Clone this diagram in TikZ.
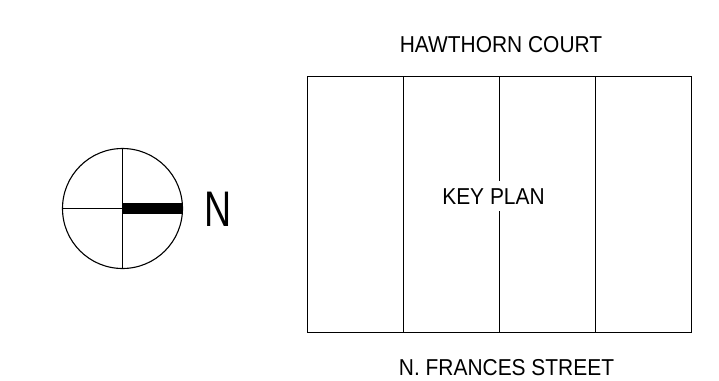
\documentclass[tikz,border=0pt]{standalone}
\usepackage{fontspec}
\setmainfont{Liberation Sans}
\newcommand{\squeezed}[2]{\scalebox{#1}[1]{#2}}
\begin{document}
\begin{tikzpicture}[x=1pt,y=-1pt,
  ln/.style={draw=black,line width=1.1pt},
  lbl/.style={inner sep=0pt,font=\fontsize{23}{26}\selectfont}]
\useasboundingbox (0,0) rectangle (719,380);
\fill[white] (0,0) rectangle (719,380);
\draw[ln] (122.5,208.5) circle (60);
\draw[ln] (122.5,148.5) -- (122.5,268.5);
\draw[ln] (62.5,208.5) -- (122.5,208.5);
\draw[black,line width=11pt] (122.5,208.5) -- (182.5,208.5);
\node[inner sep=0pt,font=\fontsize{50}{54}\selectfont] at (218,209) {\squeezed{0.75}{N}};
\draw[ln] (307.5,76.5) rectangle (691.5,332.5);
\draw[ln] (403.5,76.5) -- (403.5,332.5);
\draw[ln] (499.5,76.5) -- (499.5,181);
\draw[ln] (499.5,211) -- (499.5,332.5);
\node[lbl] at (501,44.5) {\squeezed{0.91}{HAWTHORN COURT}};
\node[lbl] at (493.5,197) {\squeezed{0.91}{KEY PLAN}};
\draw[ln] (595.5,76.5) -- (595.5,332.5);
\node[lbl] at (506.5,367.5) {\squeezed{0.91}{N. FRANCES STREET}};
\end{tikzpicture}
\end{document}
